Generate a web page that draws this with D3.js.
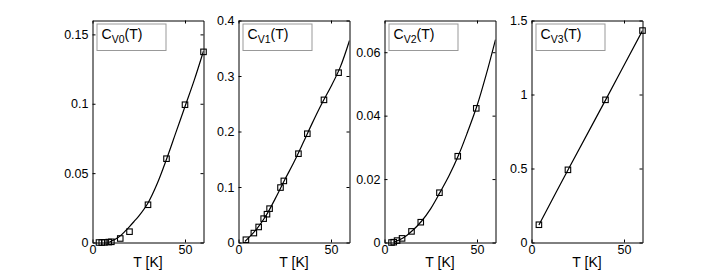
<!DOCTYPE html>
<html><head><meta charset="utf-8">
<script src="https://cdn.jsdelivr.net/npm/d3@7"></script>
<style>body{margin:0;background:#fff} svg{display:block}</style>
</head><body><svg id="c" width="708" height="273"></svg>
<script>
// ---------- data ----------
const subscripts = ["V0", "V1", "V2", "V3"];
const xLabel = "T [K]";
const xDomain = [0, 60];
const xTicks = [0, 50];
const xTickLabels = ["0", "50"];
const yDomainMax = [0.16, 0.4, 0.07, 1.5];

const yTicks0 = [0, 0.05, 0.1, 0.15];
const yTickLabels0 = ["0", "0.05", "0.1", "0.15"];
const yTicks1 = [0, 0.1, 0.2, 0.3, 0.4];
const yTickLabels1 = ["0", "0.1", "0.2", "0.3", "0.4"];
const yTicks2 = [0, 0.02, 0.04, 0.06];
const yTickLabels2 = ["0", "0.02", "0.04", "0.06"];
const yTicks3 = [0, 0.5, 1, 1.5];
const yTickLabels3 = ["0", "0.5", "1", "1.5"];

// measured points (squares)
const pointsT0 = [3.5, 5, 6.5, 8.8, 10.2, 15, 20, 30, 40, 50, 60];
const pointsC0 = [0, 0, 0.0001, 0.0003, 0.0005, 0.0029, 0.0078, 0.0272, 0.0604, 0.0993, 0.1374];
const pointsT1 = [4, 8.3, 10.9, 13.6, 15.4, 16.8, 22.7, 24.5, 32.4, 37.2, 46.2, 54.1];
const pointsC1 = [0.005, 0.017, 0.028, 0.043, 0.051, 0.061, 0.099, 0.111, 0.160, 0.196, 0.257, 0.306];
const pointsT2 = [3.8, 5, 6.8, 9.5, 14.6, 19.6, 29.7, 39.6, 49.6];
const pointsC2 = [0, 0.0001, 0.0006, 0.0013, 0.0035, 0.0064, 0.0157, 0.0272, 0.0423];
const pointsT3 = [4, 19.7, 40, 60];
const pointsC3 = [0.12, 0.491, 0.964, 1.432];

// fitted curves (solid lines)
const curveT0 = [9, 10, 12.5, 15, 17.5, 20, 22.5, 25, 30, 35, 40, 45, 50, 55, 60];
const curveC0 = [0, 0.0008, 0.0025, 0.0048, 0.008, 0.0115, 0.0152, 0.019, 0.0285, 0.0425, 0.060, 0.079, 0.098, 0.117, 0.138];
const curveT1 = [3.5, 10, 15, 20, 25, 30, 35, 40, 45, 50, 55, 60];
const curveC1 = [0.002, 0.025, 0.049, 0.080, 0.113, 0.145, 0.180, 0.216, 0.250, 0.281, 0.316, 0.364];
const curveT2 = [5, 10, 15, 20, 25, 30, 35, 40, 45, 50, 55, 60];
const curveC2 = [0.0001, 0.0014, 0.0037, 0.0067, 0.0107, 0.0158, 0.0212, 0.0275, 0.035, 0.0431, 0.0530, 0.0640];
const curveT3 = [4, 19.7, 40, 60];
const curveC3 = [0.118, 0.49, 0.962, 1.432];

const yTicksAll = [yTicks0, yTicks1, yTicks2, yTicks3];
const yTickLabelsAll = [yTickLabels0, yTickLabels1, yTickLabels2, yTickLabels3];
const pointsAll = [[pointsT0, pointsC0], [pointsT1, pointsC1], [pointsT2, pointsC2], [pointsT3, pointsC3]];
const curvesAll = [[curveT0, curveC0], [curveT1, curveC1], [curveT2, curveC2], [curveT3, curveC3]];

// ---------- layout ----------
const svg = d3.select("#c");
const lefts = [92, 238, 384, 531];
const plotW = 111, plotTop = 20, plotBottom = 242;
const FONT = "'Liberation Sans', Arial, Helvetica, sans-serif";

lefts.forEach((L, i) => {
  const x = d3.scaleLinear().domain(xDomain).range([L + 0.5, L + plotW + 0.5]);
  const y = d3.scaleLinear().domain([0, yDomainMax[i]]).range([plotBottom + 0.5, plotTop + 0.5]);
  const g = svg.append("g");

  const clipId = "clip" + i;
  svg.append("clipPath").attr("id", clipId).append("rect")
    .attr("x", L + 0.5).attr("y", plotTop + 0.5).attr("width", plotW).attr("height", plotBottom - plotTop);

  // curve
  const [cT, cC] = curvesAll[i];
  const line = d3.line().x((d, k) => x(cT[k])).y((d, k) => y(cC[k])).curve(d3.curveCatmullRom);
  g.append("path").datum(cT).attr("d", line).attr("fill", "none")
    .attr("stroke", "#000").attr("stroke-width", 1.2).attr("clip-path", `url(#${clipId})`);

  // markers
  const [pT, pC] = pointsAll[i];
  const s = 5.5;
  g.selectAll("rect.pt").data(pT).join("rect").attr("class", "pt")
    .attr("x", (d) => x(d) - s / 2).attr("y", (d, k) => y(pC[k]) - s / 2)
    .attr("width", s).attr("height", s)
    .attr("fill", "none").attr("stroke", "#000").attr("stroke-width", 1.1);

  // axes (inward ticks on all sides)
  const tl = 3;
  const fmtX = (d) => xTickLabels[xTicks.indexOf(d)];
  const fmtY = (d) => yTickLabelsAll[i][yTicksAll[i].indexOf(d)];
  const ax = [
    g.append("g").attr("transform", `translate(0,${plotBottom + 0.5})`)
      .call(d3.axisBottom(x).tickValues(xTicks).tickFormat(fmtX).tickSize(-tl).tickSizeOuter(0).tickPadding(3)),
    g.append("g").attr("transform", `translate(0,${plotTop + 0.5})`)
      .call(d3.axisTop(x).tickValues(xTicks).tickFormat("").tickSize(-tl).tickSizeOuter(0)),
    g.append("g").attr("transform", `translate(${L + 0.5},0)`)
      .call(d3.axisLeft(y).tickValues(yTicksAll[i]).tickFormat(fmtY).tickSize(-tl).tickSizeOuter(0).tickPadding(4)),
    g.append("g").attr("transform", `translate(${L + plotW + 0.5},0)`)
      .call(d3.axisRight(y).tickValues(yTicksAll[i]).tickFormat("").tickSize(-tl).tickSizeOuter(0))
  ];
  ax.forEach((a) => {
    a.attr("font-family", FONT).attr("font-size", 12.5);
    a.select(".domain").attr("stroke", "#000").attr("stroke-width", 1);
    a.selectAll(".tick line").attr("stroke", "#000");
    a.selectAll(".tick text").attr("fill", "#000");
  });

  // x label
  g.append("text").attr("x", L + plotW / 2 + 0.5).attr("y", 266.5)
    .attr("text-anchor", "middle").attr("font-family", FONT).attr("font-size", 14)
    .attr("fill", "#000").text(xLabel);

  // legend box
  const bx = L + 5, by = plotTop + 4;
  g.append("rect").attr("x", bx).attr("y", by).attr("width", 69).attr("height", 26.5)
    .attr("fill", "#fff").attr("stroke", "#999").attr("stroke-width", 1);
  const t = g.append("text").attr("x", bx + 4.5).attr("y", by + 14.5)
    .attr("font-family", FONT).attr("font-size", 14).attr("fill", "#000");
  t.append("tspan").text("C");
  t.append("tspan").attr("font-size", 10.5).attr("dy", 4).text(subscripts[i]);
  t.append("tspan").attr("dy", -4).text("(T)");
});
</script></body></html>
